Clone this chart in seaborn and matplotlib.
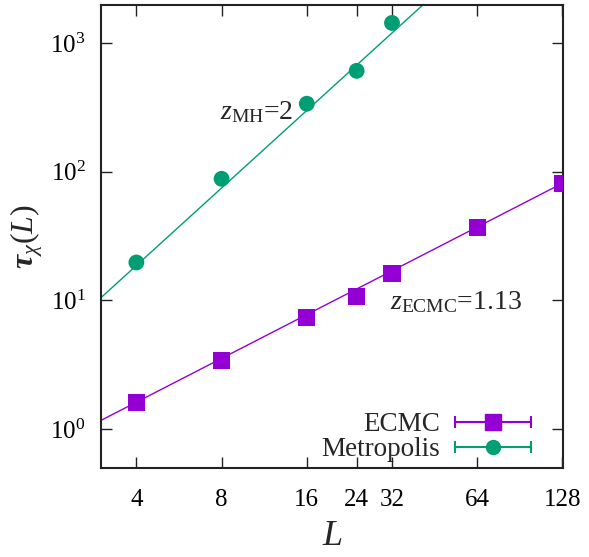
import numpy as np
import pandas as pd
import matplotlib
matplotlib.use("Agg")
import matplotlib.pyplot as plt
import seaborn as sns
from matplotlib.legend_handler import HandlerBase
from matplotlib.lines import Line2D

# data
L_ecmc = [4, 8, 16, 24, 32, 64, 128]
tau_ecmc = [1.62, 3.43, 7.38, 10.7, 16.2, 36.8, 80.7]
L_mh = [4, 8, 16, 24, 32]
tau_mh = [19.7, 88, 337, 607, 1430]

# power-law fits tau = a * L**z
z_ecmc, a_ecmc = 1.13, 0.338
z_mh, a_mh = 2.0, 1.167

xticks = [4, 8, 16, 24, 32, 64, 128]
purple = "#9400D3"
green = "#009E73"

sns.set_style("ticks")
plt.rcParams["font.family"] = ["Liberation Serif", "DejaVu Serif"]
plt.rcParams["mathtext.fontset"] = "custom"
plt.rcParams["mathtext.rm"] = "Liberation Serif"
plt.rcParams["mathtext.it"] = "Liberation Serif:italic"
plt.rcParams["mathtext.bf"] = "Liberation Serif:bold:italic"

fig = plt.figure(figsize=(5.89, 5.57), dpi=100)
ax = fig.add_axes([0.1715, 0.160, 0.785, 0.831])
ax.set_xscale("log")
ax.set_yscale("log")

Lfit = np.geomspace(3, 140, 50)
fit = pd.DataFrame({"L": Lfit,
                    "ecmc": a_ecmc * Lfit ** z_ecmc,
                    "mh": a_mh * Lfit ** z_mh})
sns.lineplot(data=fit, x="L", y="ecmc", color=purple, lw=1, ax=ax)
sns.lineplot(data=fit, x="L", y="mh", color=green, lw=1, ax=ax)

sns.scatterplot(x=L_ecmc, y=tau_ecmc, marker="s", s=150, color=purple,
                edgecolor="none", ax=ax, zorder=3)
sns.scatterplot(x=L_mh, y=tau_mh, marker="o", s=130, color=green,
                edgecolor="none", ax=ax, zorder=3)

ax.set_xlim(3, 129)
ax.set_ylim(0.5, 1970)
ax.set_xticks(xticks, [str(v) for v in xticks])
ax.set_yticks([1, 10, 100, 1000])
ax.minorticks_off()
ax.tick_params(direction="in", length=8, width=1, top=True, right=True,
               labelsize=18, colors="#222222", labelcolor="black")
ax.tick_params(axis="x", pad=15)
ax.tick_params(axis="y", pad=11)
for s in ax.spines.values():
    s.set_linewidth(1.5)
    s.set_color("#222222")

ax.set_xlabel(r"$L$", fontsize=26, labelpad=7)
ax.set_ylabel(r"$\mathbf{\tau}_\chi(L)$", fontsize=23, labelpad=4)

ax.text(0.257, 0.769, r"$z_{\rm MH}$=2", transform=ax.transAxes,
        fontsize=20, va="center")
ax.text(0.625, 0.359, r"$z_{\rm ECMC}$=1.13", transform=ax.transAxes,
        fontsize=20, va="center")


class CapHandler(HandlerBase):
    def create_artists(self, legend, orig, xd, yd, w, h, fontsize, trans):
        y = h / 2 - yd
        x0, x1 = -xd, -xd + w
        c = orig.get_color()
        line = Line2D([x0, x1], [y, y], color=c, lw=1.5)
        caps = Line2D([x0, x1], [y, y], ls="none", marker="|", ms=8,
                      mew=1.5, color=c)
        mk = Line2D([(x0 + x1) / 2], [y], ls="none", marker=orig.get_marker(),
                    ms=orig.get_markersize(), color=c)
        for a in (line, caps, mk):
            a.set_transform(trans)
        return [line, caps, mk]


handles = [Line2D([], [], color=purple, marker="s", ms=11),
           Line2D([], [], color=green, marker="o", ms=10)]
ax.legend(handles, ["ECMC", "Metropolis"], handler_map={Line2D: CapHandler()},
          loc="lower right", bbox_to_anchor=(0.929, 0.012), frameon=False,
          markerfirst=False, fontsize=19.5, handlelength=2.8,
          handletextpad=0.55, labelspacing=0.0, borderpad=0,
          borderaxespad=0)

fig.savefig("out.png", dpi=100)
